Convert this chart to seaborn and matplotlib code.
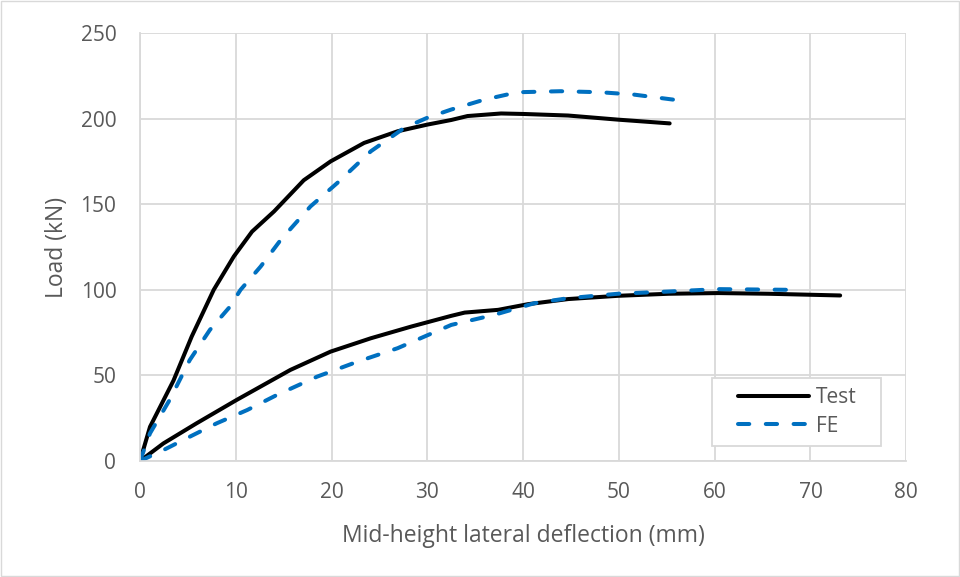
import matplotlib
matplotlib.use("Agg")
import matplotlib.pyplot as plt
import seaborn as sns

# upper specimen (higher load)
test_a_x = [0, 1.05, 3.5, 5.4, 7.7, 9.8, 11.7, 14.0, 17.1, 19.9, 23.4, 26.9, 30.0,
            32.5, 34.2, 37.7, 40.1, 44.7, 49.9, 55.3]
test_a_y = [0, 20, 47, 72.7, 100, 119.5, 134, 145.8, 164, 175, 185.8, 192.6, 196.5,
            199.2, 201.5, 203, 202.7, 201.8, 199.4, 197.2]
fe_a_x = [0, 1.05, 3.1, 5.2, 7.3, 9.4, 10.5, 12.6, 14.7, 17.8, 20.6, 24.1, 27.6,
          30.0, 32.5, 35.9, 39.4, 43.9, 48.1, 51.6, 56.5]
fe_a_y = [0, 16.2, 35.7, 59, 76.6, 90.2, 100, 113.6, 129.2, 148.7, 162.4, 180.9, 194.6,
          200.5, 205.3, 211, 215.4, 216, 215.4, 214, 210.5]

# lower specimen
test_b_x = [0, 2.45, 5.9, 10.1, 15.7, 19.9, 24.1, 28.3, 32.5, 33.9, 37.4, 40.5, 44.7,
            49.9, 55.2, 60.4, 65.6, 73.1]
test_b_y = [0, 10.3, 22, 35.7, 53.2, 63.9, 71.7, 78.5, 84.8, 86.7, 88.3, 91.6, 94.6,
            96.5, 97.7, 98.1, 97.7, 96.7]
fe_b_x = [0, 2.45, 5.2, 8.0, 11.2, 14.3, 18.5, 22.7, 26.9, 32.5, 37.0, 41.2, 44.7,
          49.9, 55.2, 60.4, 67.7]
fe_b_y = [0, 6.4, 14.2, 22, 29.8, 38.6, 49.3, 58, 65.9, 79.5, 85.4, 92.2, 95.1,
          97.7, 99, 100.4, 100]

x_ticks = [0, 10, 20, 30, 40, 50, 60, 70, 80]
y_ticks = [0, 50, 100, 150, 200, 250]

sns.set_style("whitegrid", {"grid.color": "#d9d9d9", "axes.edgecolor": "#d9d9d9"})
plt.rcParams["font.family"] = ["Open Sans", "DejaVu Sans"]

fig = plt.figure(figsize=(9.6, 5.77), dpi=100)
ax = fig.add_axes([0.1458, 0.201, 0.7982, 0.7418])

test_kw = dict(color="black", linewidth=2.9, sort=False, estimator=None)
fe_kw = dict(color="#0070C0", linewidth=2.9, sort=False, estimator=None)

sns.lineplot(x=test_a_x, y=test_a_y, ax=ax, label="Test", **test_kw)
sns.lineplot(x=test_b_x, y=test_b_y, ax=ax, **test_kw)
sns.lineplot(x=fe_a_x, y=fe_a_y, ax=ax, label="FE", **fe_kw)
sns.lineplot(x=fe_b_x, y=fe_b_y, ax=ax, **fe_kw)
for ln in ax.lines[:2]:
    ln.set_solid_capstyle("round")
    ln.set_solid_joinstyle("round")
for ln in ax.lines[2:]:
    ln.set_linestyle((0, (2.8, 4.1)))
    ln.set_dash_capstyle("round")

ax.set_xlim(0, 80)
ax.set_ylim(0, 250)
ax.set_xticks(x_ticks)
ax.set_yticks(y_ticks)
ax.tick_params(labelsize=15, colors="#595959", length=0)
ax.tick_params(axis="x", pad=15)
ax.tick_params(axis="y", pad=17)
ax.grid(True, color="#d9d9d9", linewidth=1.3)
for side in ["top", "right"]:
    ax.spines[side].set_visible(False)
for side in ["left", "bottom"]:
    ax.spines[side].set_color("#d9d9d9")
    ax.spines[side].set_linewidth(1.3)

ax.set_xlabel("Mid-height lateral deflection (mm)", fontsize=16.5, color="#595959")
ax.set_ylabel("Load (kN)", fontsize=16.5, color="#595959")
ax.xaxis.set_label_coords(0.5, -0.148)
ax.yaxis.set_label_coords(-0.093, 0.5)

# legend box drawn separately so its padding matches the original
ax.add_patch(plt.Rectangle((0.7467, 0.035), 0.2207, 0.159, transform=ax.transAxes,
                           facecolor="white", edgecolor="#d9d9d9", linewidth=1.3,
                           zorder=4))
leg = ax.legend(loc="center left", bbox_to_anchor=(0.7807, 0.1145), fontsize=15,
                frameon=False, handlelength=3.4, borderpad=0, labelspacing=0.36,
                handletextpad=0.35, borderaxespad=0)
leg.set_zorder(5)
for t in leg.get_texts():
    t.set_color("#595959")

fig.patches.append(plt.Rectangle((0.001, 0.001), 0.998, 0.997, transform=fig.transFigure,
                                 fill=False, edgecolor="#d9d9d9", linewidth=1))

fig.savefig("out.png", dpi=100)
